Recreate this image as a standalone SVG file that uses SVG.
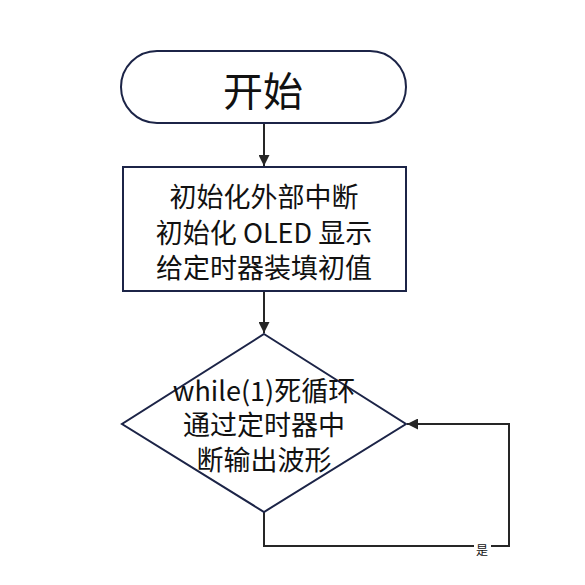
<svg xmlns="http://www.w3.org/2000/svg" width="585" height="585" viewBox="0 0 585 585">
<defs>
<style>
.shape{fill:#fff;stroke:#1c2447;stroke-width:2}
.conn{fill:none;stroke:#262626;stroke-width:2}
text{font-family:"Microsoft YaHei","Noto Sans CJK SC","Noto Sans",sans-serif;fill:#111;text-anchor:middle}
.t{font-size:27px}
</style>
<marker id="ah" viewBox="0 0 10 10" refX="10" refY="5" markerWidth="6" markerHeight="5.5" orient="auto" markerUnits="strokeWidth">
<path d="M0,0L10,5L0,10z" fill="#262626"/>
</marker>
</defs>
<rect width="585" height="585" fill="#fff"/>
<g id="connectors">
<line class="conn" x1="264" y1="123" x2="264" y2="166" marker-end="url(#ah)"/>
<line class="conn" x1="264" y1="291" x2="264" y2="333" marker-end="url(#ah)"/>
<polyline class="conn" points="264,512 264,546 509,546 509,424 407,424" marker-end="url(#ah)"/>
</g>
<g id="start">
<rect class="shape" x="121" y="51" width="285" height="72" rx="36" ry="36"/>
<text x="263" y="106" style="font-size:40px">开始</text>
</g>
<g id="init">
<rect class="shape" x="123" y="167" width="283" height="124"/>
<text class="t" x="264" y="207">初始化外部中断</text>
<text class="t" x="264" y="243">初始化 OLED 显示</text>
<text class="t" x="264" y="278">给定时器装填初值</text>
</g>
<g id="loop">
<polygon class="shape" points="264,334 406,424 264,512 122,424"/>
<text class="t" x="264" y="401">while(1)死循环</text>
<text class="t" x="264" y="435">通过定时器中</text>
<text class="t" x="264" y="470">断输出波形</text>
</g>
<g id="label-yes">
<rect x="474" y="542" width="17" height="16" fill="#fff"/>
<text x="482" y="555" style="font-size:12px">是</text>
</g>
</svg>
